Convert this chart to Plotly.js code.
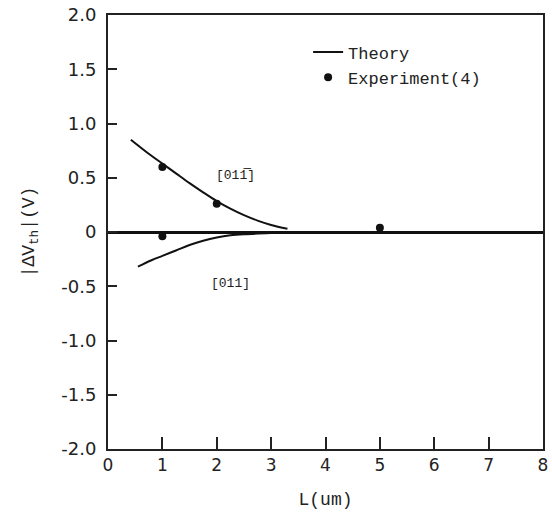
<!DOCTYPE html>
<html>
<head>
<meta charset="utf-8">
<script src="https://cdn.plot.ly/plotly-3.0.1.min.js"></script>
<style>html,body{margin:0;padding:0;background:#fff;}#chart{width:552px;height:519px;}</style>
</head>
<body>
<div id="chart"></div>
<script>
// Theory curve for [01-1] (upper branch)
const upperL = [0.42, 0.7, 1.0, 1.25, 1.5, 1.75, 2.0, 2.25, 2.5, 2.75, 3.0, 3.3];
const upperV = [0.85, 0.74, 0.63, 0.54, 0.45, 0.365, 0.285, 0.215, 0.155, 0.105, 0.065, 0.03];
// Theory curve for [011] (lower branch)
const lowerL = [0.55, 0.8, 1.0, 1.25, 1.5, 1.75, 2.0, 2.25, 2.5, 3.0, 3.3];
const lowerV = [-0.32, -0.26, -0.22, -0.17, -0.12, -0.08, -0.05, -0.03, -0.02, -0.01, 0.0];
// Experiment (4)
const expL = [1, 2, 1, 5];
const expV = [0.6, 0.26, -0.04, 0.04];
// Axis ticks
const xTicks = [0, 1, 2, 3, 4, 5, 6, 7, 8];
const yTickVals = [-2, -1.5, -1, -0.5, 0, 0.5, 1, 1.5, 2];
const yTickText = ["-2.0", "-1.5", "-1.0", "-0.5", "0", "0.5", "1.0", "1.5", "2.0"];

const mono = "Liberation Mono, Courier New, monospace";
const sans = "DejaVu Sans, sans-serif";

const traces = [
  {x: upperL, y: upperV, mode: 'lines', name: 'Theory', legendgroup: 'th',
   line: {color: '#111', width: 2, shape: 'spline', smoothing: 1}},
  {x: lowerL, y: lowerV, mode: 'lines', name: 'Theory', legendgroup: 'th', showlegend: false,
   line: {color: '#111', width: 2, shape: 'spline', smoothing: 1}},
  {x: expL, y: expV, mode: 'markers', name: 'Experiment(4)',
   marker: {color: '#111', size: 8}}
];

const layout = {
  width: 552, height: 519,
  margin: {l: 108, r: 9, t: 15, b: 70},
  paper_bgcolor: '#fff', plot_bgcolor: '#fff',
  showlegend: true,
  legend: {x: 0.46, y: 0.955, xanchor: 'left', yanchor: 'top', bgcolor: 'rgba(0,0,0,0)',
           font: {family: mono, size: 17, color: '#222'}, tracegroupgap: 0, itemwidth: 30},
  xaxis: {range: [0, 8], tickvals: xTicks, ticks: 'inside', ticklen: 12, tickwidth: 2,
          tickcolor: '#222', showline: true, linecolor: '#222', linewidth: 2, mirror: true,
          showgrid: false, zeroline: false,
          tickfont: {family: sans, size: 17, color: '#222'},
          title: {text: 'L(um)', font: {family: mono, size: 18, color: '#222'}, standoff: 18}},
  yaxis: {range: [-2, 2], tickvals: yTickVals, ticktext: yTickText, ticks: 'inside', ticklen: 9,
          tickwidth: 2, tickcolor: '#222', showline: true, linecolor: '#222', linewidth: 2, mirror: true,
          showgrid: false, zeroline: true, zerolinecolor: '#111', zerolinewidth: 3,
          ticklabelstandoff: 6,
          tickfont: {family: sans, size: 18, color: '#222'},
          title: {text: '|ΔV<sub>th</sub>|(V)\u00a0\u00a0\u00a0', font: {family: mono, size: 18, color: '#222'}, standoff: 22}},
  annotations: [
    {x: 2.35, y: 0.52, xref: 'x', yref: 'y', text: '[011\u0305]',
     showarrow: false, font: {family: mono, size: 13, color: '#222'}},
    {x: 2.25, y: -0.47, xref: 'x', yref: 'y', text: '[011]',
     showarrow: false, font: {family: mono, size: 13, color: '#222'}}
  ]
};

Plotly.newPlot('chart', traces, layout, {displayModeBar: false, staticPlot: true});
</script>
</body>
</html>
